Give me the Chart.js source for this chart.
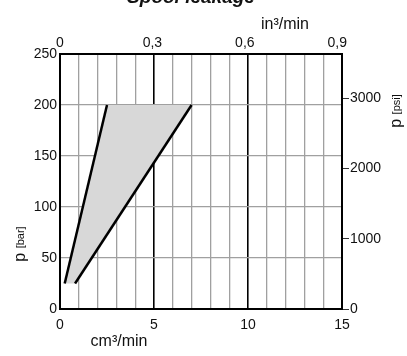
<!DOCTYPE html>
<html>
<head>
<meta charset="utf-8">
<script src="https://cdn.jsdelivr.net/npm/chart.js@4.4.1/dist/chart.umd.min.js"></script>
<style>
  html, body { margin: 0; padding: 0; background: #fff; }
</style>
</head>
<body>
<canvas id="myChart" width="407" height="356"></canvas>
<script>
// leakage band: pressure in bar vs. flow in cm3/min at the low and high edge
const pressureBar = [25, 200];
const leakLow = [0.25, 2.5];
const leakHigh = [0.8, 7];

// axis ticks
const barTicks = [0, 50, 100, 150, 200, 250];
const psiTicks = [0, 1000, 2000, 3000];
const cmTicks = [0, 5, 10, 15];
const inTicks = [0, 0.3, 0.6, 0.9];

const CM3_TO_IN3 = 0.0610237;
const BAR_TO_PSI = 14.5038;

const font = 'Liberation Sans, Arial, sans-serif';
const grey = '#a0a0a0';

// grey area between the two leakage lines
const bandPlugin = {
  id: 'band',
  beforeDatasetsDraw(chart) {
    const {ctx, scales: {x, y}} = chart;
    ctx.save();
    ctx.fillStyle = '#d8d8d8';
    ctx.beginPath();
    ctx.moveTo(x.getPixelForValue(leakLow[0]), y.getPixelForValue(pressureBar[0]));
    ctx.lineTo(x.getPixelForValue(leakLow[1]), y.getPixelForValue(pressureBar[1]));
    ctx.lineTo(x.getPixelForValue(leakHigh[1]), y.getPixelForValue(pressureBar[1]));
    ctx.lineTo(x.getPixelForValue(leakHigh[0]), y.getPixelForValue(pressureBar[0]));
    ctx.closePath();
    ctx.fill();
    ctx.restore();
  }
};

// title and unit labels
const labelPlugin = {
  id: 'labels',
  afterDraw(chart) {
    const ctx = chart.ctx;
    ctx.save();
    ctx.fillStyle = '#111';
    ctx.textAlign = 'center';
    ctx.textBaseline = 'alphabetic';
    ctx.font = 'italic bold 19px ' + font;
    ctx.fillText('Spool leakage', 191, 3);

    ctx.font = '16px ' + font;
    ctx.textBaseline = 'middle';
    ctx.fillText('in\u00b3/min', 285, 25);
    ctx.fillText('cm\u00b3/min', 119, 342);

    // rotated pressure labels: big "p", small unit
    const vertical = (cx, cy, unit) => {
      ctx.save();
      ctx.translate(cx, cy);
      ctx.rotate(-Math.PI / 2);
      ctx.textAlign = 'left';
      ctx.font = '16px ' + font;
      const wp = ctx.measureText('p ').width;
      ctx.font = '11px ' + font;
      const wu = ctx.measureText(unit).width;
      const start = -(wp + wu) / 2;
      ctx.font = '16px ' + font;
      ctx.fillText('p', start, 0);
      ctx.font = '11px ' + font;
      ctx.fillText(unit, start + wp, 0);
      ctx.restore();
    };
    vertical(21, 244, '[bar]');
    vertical(397, 111, '[psi]');
    ctx.restore();
  }
};

const ctx = document.getElementById('myChart').getContext('2d');

const myChart = new Chart(ctx, {
  type: 'scatter',
  data: {
    datasets: [{
      data: [{x: leakLow[0], y: pressureBar[0]}, {x: leakLow[1], y: pressureBar[1]}],
      showLine: true,
      borderColor: '#000',
      borderWidth: 2.5,
      pointRadius: 0
    }, {
      data: [{x: leakHigh[0], y: pressureBar[0]}, {x: leakHigh[1], y: pressureBar[1]}],
      showLine: true,
      borderColor: '#000',
      borderWidth: 2.5,
      pointRadius: 0
    }]
  },
  options: {
    responsive: false,
    animation: false,
    layout: { padding: 0 },
    plugins: {
      legend: { display: false },
      tooltip: { enabled: false }
    },
    scales: {
      x: {
        type: 'linear',
        position: 'bottom',
        min: 0,
        max: 15,
        ticks: {
          stepSize: 1,
          autoSkip: false,
          maxRotation: 0,
          padding: 8,
          color: '#111',
          font: { family: font, size: 14 },
          callback: v => cmTicks.includes(v) ? String(v) : ''
        },
        grid: {
          drawTicks: false,
          color: c => (c.tick.value === 5 || c.tick.value === 10) ? '#000' : grey,
          lineWidth: c => (c.tick.value === 5 || c.tick.value === 10) ? 1.6 : 1.3
        },
        border: { color: '#000', width: 2 },
        afterFit: s => { s.height = 47; }
      },
      x2: {
        type: 'linear',
        position: 'top',
        min: 0,
        max: 15 * CM3_TO_IN3,
        afterBuildTicks: s => { s.ticks = inTicks.map(v => ({value: v})); },
        ticks: {
          padding: 2,
          maxRotation: 0,
          color: '#111',
          font: { family: font, size: 14 },
          callback: v => v === 0 ? '0' : v.toFixed(1).replace('.', ',')
        },
        grid: { drawOnChartArea: false, drawTicks: false },
        border: { color: '#000', width: 2 },
        afterFit: s => { s.height = 54; }
      },
      y: {
        type: 'linear',
        position: 'left',
        min: 0,
        max: 250,
        afterBuildTicks: s => { s.ticks = barTicks.map(v => ({value: v})); },
        ticks: {
          padding: 3,
          color: '#111',
          font: { family: font, size: 14 },
          callback: v => String(v)
        },
        grid: { drawTicks: false, color: grey, lineWidth: 1.3 },
        border: { color: '#000', width: 2 },
        afterFit: s => { s.width = 60; }
      },
      y2: {
        type: 'linear',
        position: 'right',
        min: 0,
        max: 250 * BAR_TO_PSI,
        afterBuildTicks: s => { s.ticks = psiTicks.map(v => ({value: v})); },
        ticks: {
          padding: 1,
          color: '#111',
          font: { family: font, size: 14 },
          callback: v => String(v)
        },
        grid: { drawOnChartArea: false, tickLength: 7, tickColor: '#333', tickWidth: 1 },
        border: { color: '#000', width: 2 },
        afterFit: s => { s.width = 65; }
      }
    }
  },
  plugins: [bandPlugin, labelPlugin]
});
</script>
</body>
</html>
